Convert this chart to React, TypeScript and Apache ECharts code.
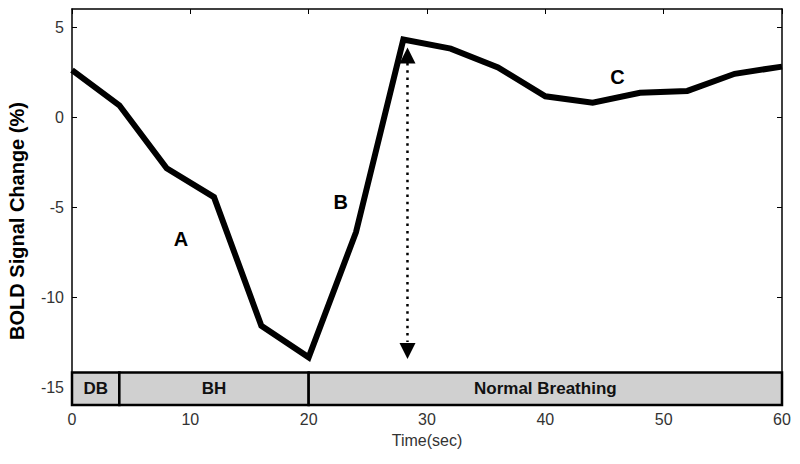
import React, { useEffect, useRef } from "react";
import * as echarts from "echarts";

const timeSec = [0, 4, 8, 12, 16, 20, 24, 28, 32, 36, 40, 44, 48, 52, 56, 60];
const boldSignal = [2.6, 0.65, -2.85, -4.45, -11.6, -13.35, -6.4, 4.3, 3.8, 2.75, 1.15, 0.8, 1.35, 1.45, 2.4, 2.8];

const yTickValues = [-15, -10, -5, 0, 5];

const phaseNames = ["DB", "BH", "Normal Breathing"];
const phaseStart = [0, 4, 20];
const phaseEnd = [4, 20, 60];
const phaseBottom = -16;
const phaseTop = -14.2;

const letterNames = ["A", "B", "C"];
const letterX = [9.2, 22.7, 46.1];
const letterY = [-6.75, -4.7, 2.2];

const arrowX = 28.35;
const arrowTopBase = 3.0;
const arrowBottomBase = -12.5;
const arrowTopHead = 3.42;
const arrowBottomHead = -13.0;

const FONT = "'Liberation Sans', Arial, sans-serif";

export default function App() {
  const ref = useRef<HTMLDivElement>(null);
  useEffect(() => {
    if (!ref.current) return;
    const chart = echarts.init(ref.current, null, { renderer: "svg" });
    const axisLineStyle = { color: "#000", width: 1.5 };
    const option: any = {
      animation: false,
      backgroundColor: "#fff",
      grid: { left: 72, right: 18, top: 9, bottom: 59 },
      xAxis: [
        {
          type: "value",
          min: 0,
          max: 60,
          interval: 10,
          position: "bottom",
          name: "Time(sec)",
          nameLocation: "middle",
          nameGap: 27,
          nameTextStyle: { fontFamily: FONT, fontSize: 16, color: "#333" },
          axisLine: { show: true, onZero: false, lineStyle: axisLineStyle },
          axisTick: { show: true, inside: true, length: 5, lineStyle: { color: "#000" } },
          axisLabel: { fontFamily: FONT, fontSize: 16, color: "#333", margin: 6 },
          splitLine: { show: false },
        },
        {
          type: "value",
          min: 0,
          max: 60,
          interval: 10,
          position: "top",
          axisLine: { show: true, onZero: false, lineStyle: axisLineStyle },
          axisTick: { show: true, inside: true, length: 5, lineStyle: { color: "#000" } },
          axisLabel: { show: false },
          splitLine: { show: false },
        },
      ],
      yAxis: [
        {
          type: "value",
          min: -16,
          max: 6,
          position: "left",
          axisLine: { show: true, onZero: false, lineStyle: axisLineStyle },
          axisTick: { show: true, inside: true, length: 5, customValues: yTickValues, lineStyle: { color: "#000" } },
          axisLabel: { fontFamily: FONT, fontSize: 16, color: "#333", margin: 8, customValues: yTickValues },
          splitLine: { show: false },
        },
        {
          type: "value",
          min: -16,
          max: 6,
          position: "right",
          axisLine: { show: true, onZero: false, lineStyle: axisLineStyle },
          axisTick: { show: true, inside: true, length: 5, customValues: yTickValues, lineStyle: { color: "#000" } },
          axisLabel: { show: false, customValues: yTickValues },
          splitLine: { show: false },
        },
      ],
      graphic: [
        {
          type: "text",
          x: 17,
          y: 221,
          rotation: Math.PI / 2,
          style: {
            text: "BOLD Signal Change (%)",
            fontFamily: FONT,
            fontSize: 20,
            fontWeight: "bold",
            fill: "#000",
            align: "center",
            verticalAlign: "middle",
          },
        },
      ],
      series: [
        {
          type: "line",
          data: timeSec.map((t, i) => [t, boldSignal[i]]),
          showSymbol: false,
          symbol: "none",
          lineStyle: { color: "#000", width: 6, join: "miter" },
          z: 5,
          markArea: {
            silent: true,
            itemStyle: { color: "#d0d0d0", borderColor: "#000", borderWidth: 2.5 },
            label: {
              show: true,
              position: "inside",
              fontFamily: FONT,
              fontSize: 17,
              fontWeight: "bold",
              color: "#111",
            },
            data: phaseNames.map((n, i) => [
              { name: n, xAxis: phaseStart[i], yAxis: phaseBottom },
              { xAxis: phaseEnd[i], yAxis: phaseTop },
            ]),
          },
        },
        {
          type: "line",
          data: [
            [arrowX, arrowTopBase],
            [arrowX, arrowBottomBase],
          ],
          symbol: "none",
          lineStyle: { color: "#000", width: 2.5, type: [2.5, 4.8] },
          z: 4,
        },
        {
          type: "scatter",
          symbol: "triangle",
          symbolSize: [16, 16],
          itemStyle: { color: "#000", opacity: 1 },
          data: [
            { value: [arrowX, arrowTopHead], symbolRotate: 0 },
            { value: [arrowX, arrowBottomHead], symbolRotate: 180 },
          ],
          z: 4,
        },
        {
          type: "scatter",
          symbolSize: 0,
          itemStyle: { color: "#000", opacity: 1 },
          data: letterNames.map((n, i) => ({ name: n, value: [letterX[i], letterY[i]] })),
          label: {
            show: true,
            position: "inside",
            formatter: "{b}",
            fontFamily: FONT,
            fontSize: 20,
            fontWeight: "bold",
            color: "#000",
          },
          z: 6,
        },
      ],
    };
    chart.setOption(option);
    return () => chart.dispose();
  }, []);
  return <div ref={ref} style={{ width: 800, height: 464, position: "absolute", left: 0, top: 0 }} />;
}
